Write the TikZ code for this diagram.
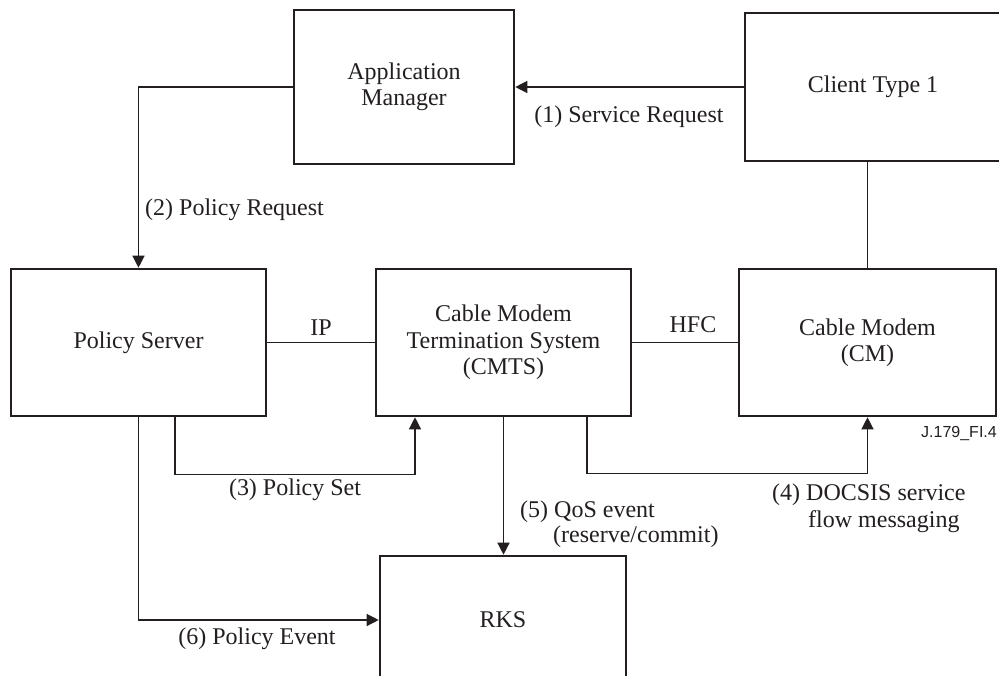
\documentclass[tikz,border=0pt]{standalone}
\usepackage{fontspec}
\setmainfont{Liberation Serif}
\newfontfamily\jsans{Liberation Sans}
\usetikzlibrary{arrows.meta}
\definecolor{ink}{HTML}{231F20}
\newcommand{\fs}{\fontsize{24}{26.5}\selectfont}
\begin{document}
\begin{tikzpicture}[x=1pt,y=-1pt,
  box/.style={draw=ink, line width=2.6pt, text=ink, align=center, font=\fs, inner sep=0pt},
  conn/.style={draw=ink, line width=1.3pt},
  arr/.style={conn, -{Triangle[length=12pt,width=12pt]}},
  lbl/.style={font=\fs, text=ink, inner sep=0pt}]
\useasboundingbox (0,0) rectangle (999,675);
\clip (0,0) rectangle (999,675);
\fill[white] (0,0) rectangle (999,675);
% boxes
\node[box, minimum width=220pt, minimum height=154pt] (am) at (404,87) {Application\\Manager};
\node[box, minimum width=256pt, minimum height=148pt] (client) at (873,87) {Client Type 1};
\node[box, minimum width=255pt, minimum height=147pt] (ps) at (138.5,342.5) {Policy Server};
\node[box, minimum width=255pt, minimum height=147pt] (cmts) at (503.5,342.5) {Cable Modem\\Termination System\\(CMTS)};
\node[box, minimum width=257pt, minimum height=147pt] (cm) at (867.5,342.5) {Cable Modem\\(CM)};
\node[box, minimum width=246pt, minimum height=128pt] (rks) at (503,620) {RKS};
% connectors
\draw[arr] (client.west) -- (am.east);
\draw[arr] (am.west) -| (ps.north);
\draw[conn] (ps.east) -- (cmts.west);
\draw[conn] (cmts.east) -- (cm.west);
\draw[conn] (cm.north |- client.south) -- (cm.north);
\draw[arr] ([xshift=36.5pt]ps.south) -- ++(0,57) -| ([xshift=-88.5pt]cmts.south);
\draw[arr] ([xshift=83.5pt]cmts.south) -- ++(0,56) -| (cm.south);
\draw[arr] (cmts.south) -- (cmts.south |- rks.north);
\draw[arr] (ps.south) |- (rks.west);
% labels
\node[lbl] (l1) at (629,117) {(1) Service Request};
\node[lbl, anchor=west] (l2) at (145,210) {(2) Policy Request};
\node[lbl] (lip) at (321,328) {IP};
\node[lbl] (lhfc) at (693,325) {HFC};
\node[lbl] (l3) at (295,490) {(3) Policy Set};
\node[lbl, anchor=west] (l5a) at (520,512) {(5) QoS event};
\node[lbl, anchor=west] (l5b) at (553,537) {(reserve/commit)};
\node[lbl, anchor=west] (l4a) at (772,495) {(4) DOCSIS service};
\node[lbl, anchor=west] (l4b) at (808,522) {flow messaging};
\node[lbl] (l6) at (257,639) {(6) Policy Event};
\node[lbl, font=\jsans\fontsize{16}{18}\selectfont, anchor=east] (fig) at (997,433) {J.179\_FI.4};
\end{tikzpicture}
\end{document}
